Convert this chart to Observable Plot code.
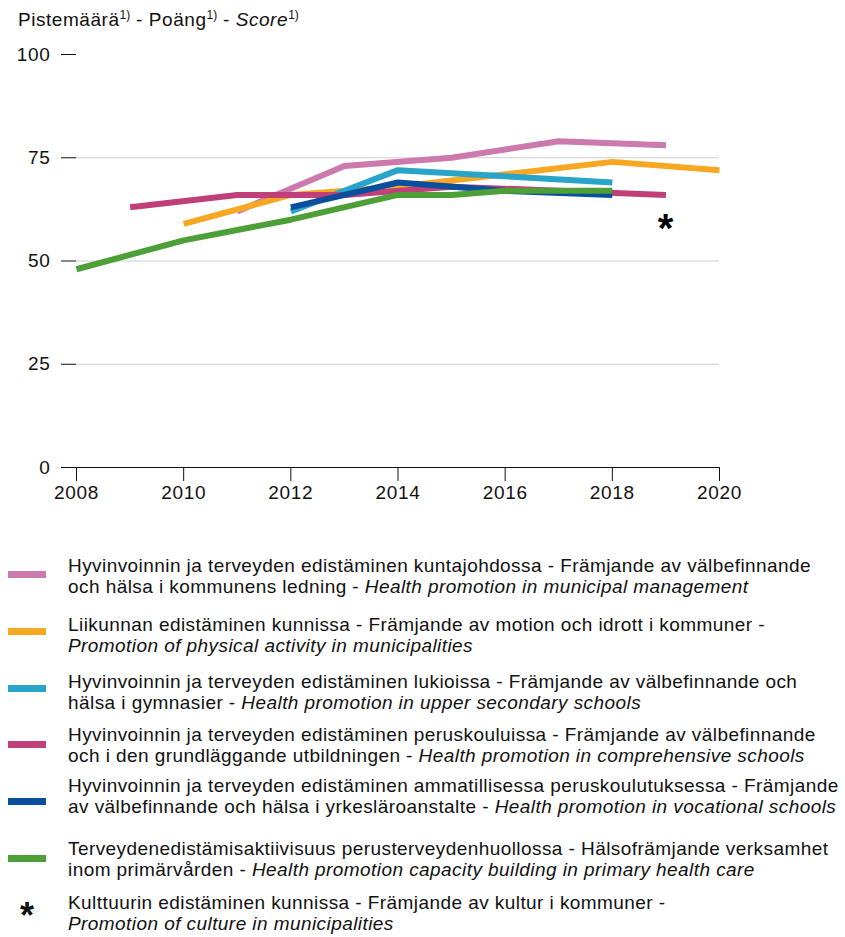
<!DOCTYPE html>
<html>
<head>
<meta charset="utf-8">
<script src="https://cdn.jsdelivr.net/npm/d3@7"></script>
<script src="https://cdn.jsdelivr.net/npm/@observablehq/plot@0.6"></script>
<style>
  body { margin: 0; background: #fff; }
  #wrap { position: relative; width: 845px; height: 937px; font-family: "Liberation Sans", Arial, sans-serif; color: #111; overflow: hidden; }
  #title { position: absolute; left: 18px; top: 9px; font-size: 19px; letter-spacing: 0.55px; white-space: nowrap; }
  #title sup { font-size: 12px; vertical-align: 0; position: relative; top: -7px; letter-spacing: 0; }
  #chart { position: absolute; left: 0; top: 0; }
  #chart svg text { letter-spacing: 0.7px; }
  .sw { position: absolute; left: 8px; width: 38px; height: 7px; }
  .star { position: absolute; left: 8px; width: 38px; text-align: center; font-size: 36px; font-weight: bold; line-height: 36px; }
  .txt { position: absolute; left: 68px; font-size: 19px; line-height: 21px; letter-spacing: 0.43px; white-space: nowrap; }
</style>
</head>
<body>
<div id="wrap">
  <div id="chart"></div>
  <div id="title">Pistemäärä<sup>1)</sup> - Poäng<sup>1)</sup> - <i>Score</i><sup>1)</sup></div>
  <div id="legend"></div>
</div>
<script>
// Series data (year, score)
const mgmtYears   = [2011, 2013, 2015, 2017, 2019];
const mgmtVals    = [62, 73, 75, 79, 78];
const physYears   = [2010, 2012, 2014, 2016, 2018, 2020];
const physVals    = [59, 66, 68, 71, 74, 72];
const upperYears  = [2012, 2014, 2016, 2018];
const upperVals   = [62, 72, 70.5, 69];
const compYears   = [2009, 2011, 2013, 2015, 2017, 2019];
const compVals    = [63, 66, 66, 68, 67, 66];
const vocYears    = [2012, 2014, 2016, 2018];
const vocVals     = [63, 69, 67, 66];
const phcYears    = [2008, 2010, 2012, 2014, 2015, 2016, 2018];
const phcVals     = [48, 55, 60, 66, 66, 67, 67];
const cultureYears = [2019];
const cultureVals  = [59];

const seriesKeys   = ["mgmt", "phys", "upper", "comp", "voc", "phc"];
const seriesColors = ["#cc79ae", "#f7a823", "#29a4c9", "#c03f78", "#0a4f9e", "#4ca037"];
const yTicks = [0, 25, 50, 75, 100];
const xTicks = [2008, 2010, 2012, 2014, 2016, 2018, 2020];
const gridValues = [25, 50, 75];

const legendFi = [
  "Hyvinvoinnin ja terveyden edistäminen kuntajohdossa - Främjande av välbefinnande\noch hälsa i kommunens ledning - ",
  "Liikunnan edistäminen kunnissa - Främjande av motion och idrott i kommuner -\n",
  "Hyvinvoinnin ja terveyden edistäminen lukioissa - Främjande av välbefinnande och\nhälsa i gymnasier - ",
  "Hyvinvoinnin ja terveyden edistäminen peruskouluissa - Främjande av välbefinnande\noch i den grundläggande utbildningen - ",
  "Hyvinvoinnin ja terveyden edistäminen ammatillisessa peruskoulutuksessa - Främjande\nav välbefinnande och hälsa i yrkesläroanstalte - ",
  "Terveydenedistämisaktiivisuus perusterveydenhuollossa - Hälsofrämjande verksamhet\ninom primärvården - ",
  "Kulttuurin edistäminen kunnissa - Främjande av kultur i kommuner -\n"
];
const legendEn = [
  "Health promotion in municipal management",
  "Promotion of physical activity in municipalities",
  "Health promotion in upper secondary schools",
  "Health promotion in comprehensive schools",
  "Health promotion in vocational schools",
  "Health promotion capacity building in primary health care",
  "Promotion of culture in municipalities"
];

const seriesYears = [mgmtYears, physYears, upperYears, compYears, vocYears, phcYears];
const seriesVals  = [mgmtVals, physVals, upperVals, compVals, vocVals, phcVals];
const rows = seriesKeys.flatMap((k, i) => seriesYears[i].map((yr, j) => ({series: k, year: yr, value: seriesVals[i][j]})));
const cultureRows = cultureYears.map((yr, j) => ({year: yr, value: cultureVals[j]}));

const chart = Plot.plot({
  width: 845,
  height: 510,
  marginLeft: 76,
  marginRight: 126,
  marginTop: 54,
  marginBottom: 43,
  style: {fontFamily: "'Liberation Sans', Arial, sans-serif", fontSize: "19px", color: "#111", background: "transparent"},
  x: {domain: [2008, 2020]},
  y: {domain: [0, 100]},
  color: {domain: seriesKeys, range: seriesColors},
  marks: [
    Plot.ruleY(gridValues, {stroke: "#d0d0d0", strokeWidth: 1.2}),
    Plot.ruleY([0], {stroke: "#111", strokeWidth: 1.2}),
    Plot.axisY({ticks: yTicks, tickSize: 15, tickPadding: 11, tickFormat: d => String(d), fontSize: 19, stroke: "#111", label: null}),
    Plot.axisX({ticks: xTicks, tickSize: 14, tickPadding: 4, tickFormat: d => String(d), fontSize: 19, stroke: "#111", label: null}),
    Plot.line(rows, {x: "year", y: "value", z: "series", stroke: "series", strokeWidth: 6, strokeLinecap: "butt", strokeLinejoin: "miter"}),
    Plot.text(cultureRows, {x: "year", y: "value", text: () => "*", fontSize: 40, fontWeight: "bold", fill: "#000", dy: 5})
  ]
});
document.getElementById("chart").appendChild(chart);

// Legend layout (swatch centres and first text-line centres, in px)
const swatchCenters = [574, 631, 688, 744, 801, 858, 908];
const textCenters   = [565, 624, 681, 734, 785, 848, 902];
const legend = document.getElementById("legend");
legendFi.forEach((fi, i) => {
  const sw = document.createElement("div");
  if (i < seriesColors.length) {
    sw.className = "sw";
    sw.style.background = seriesColors[i];
    sw.style.top = (swatchCenters[i] - 3.5) + "px";
  } else {
    sw.className = "star";
    sw.textContent = "*";
    sw.style.top = (swatchCenters[i] - 10) + "px";
  }
  const txt = document.createElement("div");
  txt.className = "txt";
  txt.style.top = (textCenters[i] - 10.5) + "px";
  const parts = fi.split("\n");
  txt.appendChild(document.createTextNode(parts[0]));
  txt.appendChild(document.createElement("br"));
  txt.appendChild(document.createTextNode(parts[1]));
  const it = document.createElement("i");
  it.textContent = legendEn[i];
  txt.appendChild(it);
  legend.appendChild(sw);
  legend.appendChild(txt);
});
</script>
</body>
</html>
